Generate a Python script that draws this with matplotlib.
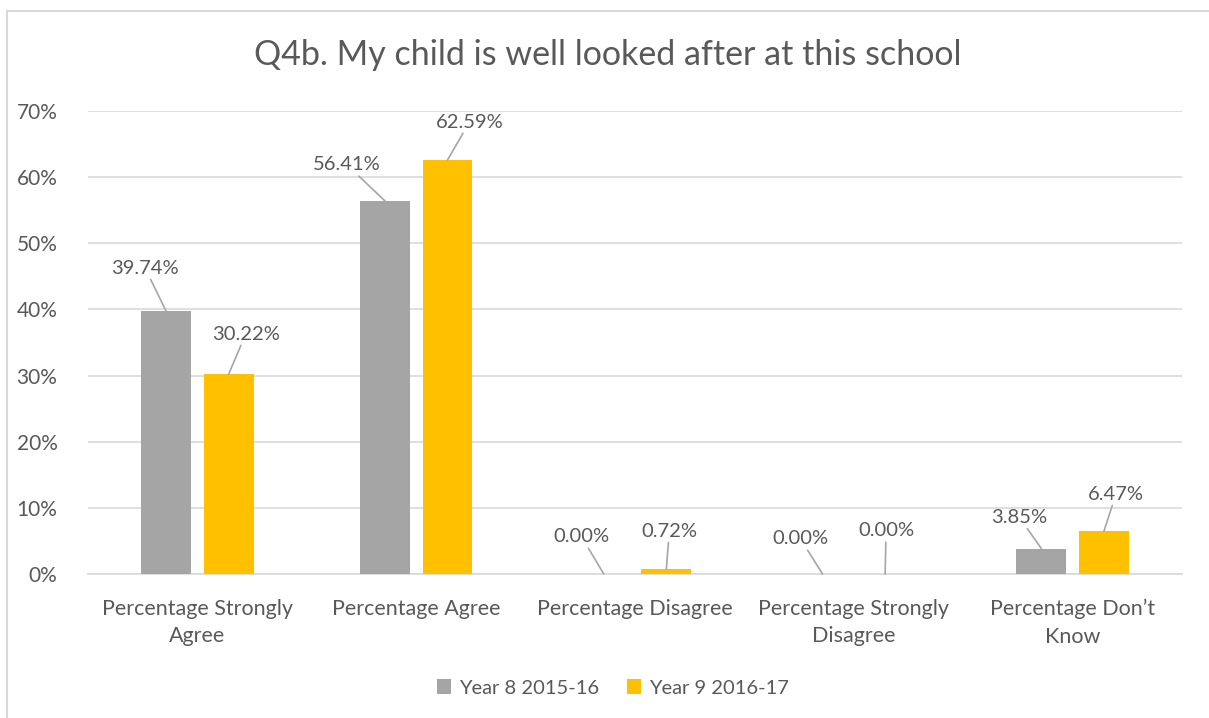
import numpy as np
import matplotlib.pyplot as plt
from matplotlib.patches import Rectangle

plt.rcParams['font.family'] = ['Lato', 'DejaVu Sans']

# data
categories = ["Percentage Strongly\nAgree", "Percentage Agree", "Percentage Disagree",
              "Percentage Strongly\nDisagree", "Percentage Don\u2019t\nKnow"]
year8 = [39.74, 56.41, 0.00, 0.00, 3.85]
year9 = [30.22, 62.59, 0.72, 0.00, 6.47]
series_names = ["Year 8 2015-16", "Year 9 2016-17"]
yticks = [0, 10, 20, 30, 40, 50, 60, 70]

# label offsets (pixels) for the leader-line labels
off8 = [(-21, 43), (-38, 36), (-22, 37), (-22, 35), (-22, 31)]
off9 = [(17, 40), (22, 38), (3, 38), (1, 43), (12, 37)]

txt = '#595959'
grey = '#A5A5A5'
gold = '#FFC000'

fig = plt.figure(figsize=(12.09, 7.18), dpi=100)
ax = fig.add_axes([0.0728, 0.2006, 0.9049, 0.6448])

x = np.arange(len(categories))
w = 0.228
d = 0.143
ax.bar(x - d, year8, w, color=grey, label=series_names[0], zorder=3)
ax.bar(x + d, year9, w, color=gold, label=series_names[1], zorder=3)

for vals, offs, sh in [(year8, off8, -d), (year9, off9, d)]:
    for i, v in enumerate(vals):
        ax.annotate(f"{v:.2f}%", xy=(i + sh, v), xytext=offs[i], textcoords='offset pixels',
                    ha='center', va='center', fontsize=14.5, color=txt,
                    arrowprops=dict(arrowstyle='-', color='#A6A6A6', lw=1.2,
                                    shrinkA=0, shrinkB=0))

ax.set_xlim(-0.5, len(categories) - 0.5)
ax.set_ylim(0, 70)
ax.set_yticks(yticks)
ax.set_yticklabels([f"{t}%" for t in yticks])
ax.set_xticks(x)
ax.set_xticklabels(categories, fontsize=15.5, color=txt, linespacing=1.45)
ax.tick_params(axis='y', labelsize=15, labelcolor=txt, length=0, pad=22)
ax.tick_params(axis='x', length=0, pad=18)
ax.grid(axis='y', color='#D9D9D9', lw=1.2, zorder=0)
for s in ['top', 'right', 'left']:
    ax.spines[s].set_visible(False)
ax.spines['bottom'].set_color('#D9D9D9')
ax.spines['bottom'].set_linewidth(1.2)

fig.text(0.503, 1 - 55 / 718, "Q4b. My child is well looked after at this school",
         ha='center', va='center', fontsize=24.5, color=txt)

fig.legend(loc='center', bbox_to_anchor=(0.507, 1 - 688 / 718), ncol=2, frameon=False,
           fontsize=14.5, labelcolor=txt, handlelength=0.7, handleheight=0.7,
           handletextpad=0.4, columnspacing=1.4)

# chart border
fig.add_artist(Rectangle((7 / 1209, -0.05), 1.1, 1 - 11 / 718 + 0.05, transform=fig.transFigure,
                         fill=False, edgecolor='#D9D9D9', lw=1.5))

fig.savefig('out.png', dpi=100, facecolor='white')
